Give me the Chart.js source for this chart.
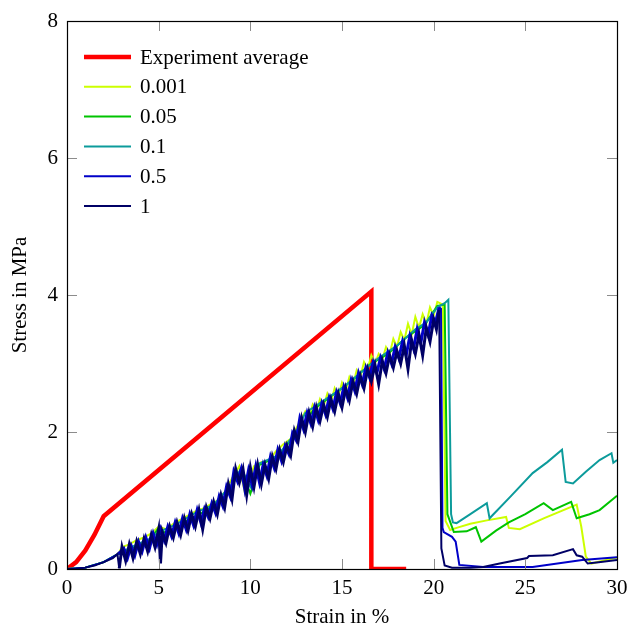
<!DOCTYPE html>
<html>
<head>
<meta charset="utf-8">
<script src="https://cdn.jsdelivr.net/npm/chart.js@4.4.0/dist/chart.umd.min.js"></script>
<style>
  html, body { margin: 0; padding: 0; background: #fff; }
  #wrap { width: 630px; height: 630px; }
</style>
</head>
<body>
<div id="wrap"><canvas id="grafico"></canvas></div>
<script>
// valores (strain %, stress MPa)
var experimento = [[0,0],[0.5,0.1],[1,0.27],[1.5,0.5],[2,0.77],[16.6,4.05],[16.6,0],[18.5,0]];

var serie0001 = [[0,0],[1,0.02],[2,0.1],[2.8,0.22],[3.0,0.32],[3.4,0.36],[3.8,0.42],[4.2,0.46],[4.6,0.52],[5.0,0.62],
  [5.4,0.58],[5.8,0.66],[6.2,0.72],[6.6,0.78],[7.0,0.84],[7.4,0.88],[7.8,0.94],[8.2,1.00],[8.6,1.12],[9.0,1.32],
  [9.4,1.50],[9.7,1.12],[10.2,1.50],[10.6,1.56],[11.0,1.58],[11.4,1.72],[11.8,1.82],[12.2,1.90],[12.6,2.10],
  [13.0,2.30],[13.2,2.22],[13.4,2.40],[13.6,2.30],[13.8,2.48],[14.0,2.38],[14.2,2.56],[14.4,2.44],[14.6,2.64],
  [14.8,2.52],[15.0,2.72],[15.2,2.60],[15.4,2.80],[15.6,2.68],[15.8,2.90],[16.0,2.80],[16.2,3.02],[16.4,2.92],
  [16.6,3.12],[16.8,3.00],[17.0,3.14],[17.2,3.06],[17.4,3.24],[17.6,3.14],[17.8,3.36],[18.0,3.24],[18.2,3.46],
  [18.4,3.34],[18.6,3.58],[18.8,3.42],[19.0,3.68],[19.2,3.52],[19.4,3.72],[19.6,3.58],[19.8,3.82],[20.0,3.70],
  [20.2,3.90],[20.5,3.86],[20.65,0.7],[20.9,0.57],[21.25,0.6],[22.0,0.66],[22.9,0.71],[23.95,0.76],[24.1,0.6],
  [24.7,0.58],[26.0,0.74],[27.8,0.94],[28.05,0.62],[28.3,0.18],[28.6,0.08],[30,0.17]];

var serie005 = [[0,0],[1,0.02],[2,0.1],[2.8,0.22],[3.5,0.3],[4.5,0.42],[5.0,0.6],[5.5,0.5],[6.5,0.7],[7.5,0.84],
  [8.5,1.02],[9.0,1.22],[9.5,1.45],[10.0,1.1],[10.5,1.52],[11.5,1.64],[12.5,1.98],[13.5,2.34],[14.5,2.54],[15.5,2.74],
  [16.5,2.98],[17.5,3.14],[18.5,3.38],[19.5,3.56],[20.2,3.84],[20.6,3.86],[20.75,0.8],[21.1,0.54],[21.8,0.55],
  [22.3,0.61],[22.6,0.4],[23.4,0.56],[24.1,0.68],[25.0,0.8],[26.0,0.96],[26.5,0.86],[27.5,0.98],[27.8,0.74],
  [28.5,0.8],[29.05,0.86],[30,1.07]];

var serie01 = [[0,0],[1,0.02],[2,0.1],[2.8,0.22],[3.5,0.32],[4.5,0.44],[5.0,0.54],[6.0,0.66],[7.0,0.82],[8.0,0.94],
  [9.0,1.24],[9.5,1.47],[10.0,1.2],[10.5,1.54],[11.5,1.66],[12.5,2.0],[13.0,2.28],[14.0,2.46],[15.0,2.64],
  [16.0,2.86],[17.0,3.08],[18.0,3.26],[19.0,3.5],[19.6,3.6],[20.2,3.82],[20.6,3.88],[20.8,3.93],[20.95,0.8],
  [21.05,0.68],[21.25,0.67],[22.0,0.8],[22.9,0.96],[23.05,0.74],[24.2,1.06],[25.4,1.4],[26.2,1.56],[27.0,1.74],
  [27.2,1.27],[27.6,1.25],[28.3,1.42],[29.05,1.59],[29.7,1.69],[29.8,1.55],[30,1.59]];

var serie05 = [[0,0],[1,0.02],[2,0.1],[2.8,0.22],[3.1,0.30],[3.3,0.16],[3.5,0.34],[3.7,0.20],[3.9,0.40],[4.1,0.26],
  [4.3,0.46],[4.5,0.30],[4.7,0.52],[4.9,0.36],[5.1,0.58],[5.3,0.42],[5.5,0.62],[5.7,0.48],[5.9,0.68],[6.1,0.52],
  [6.3,0.74],[6.5,0.58],[6.7,0.80],[6.9,0.64],[7.1,0.86],[7.3,0.68],[7.5,0.88],[7.7,0.76],[7.9,0.96],[8.1,0.82],
  [8.3,1.06],[8.5,0.92],[8.7,1.20],[8.9,1.06],[9.1,1.42],[9.3,1.28],[9.5,1.46],[9.7,1.16],[9.9,1.44],[10.1,1.22],
  [10.3,1.50],[10.5,1.26],[10.7,1.52],[10.9,1.36],[11.1,1.64],[11.3,1.48],[11.5,1.74],[11.7,1.58],[11.9,1.80],
  [12.1,1.68],[12.3,1.98],[12.5,1.88],[12.7,2.20],[12.9,2.04],[13.1,2.28],[13.3,2.12],[13.5,2.36],[13.7,2.18],
  [13.9,2.42],[14.1,2.26],[14.3,2.50],[14.5,2.34],[14.7,2.58],[14.9,2.42],[15.1,2.66],[15.3,2.50],[15.5,2.76],
  [15.7,2.60],[15.9,2.86],[16.1,2.70],[16.3,2.94],[16.5,2.80],[16.7,3.02],[16.9,2.86],[17.1,3.08],[17.3,2.92],
  [17.5,3.16],[17.7,3.00],[17.9,3.24],[18.1,3.08],[18.3,3.32],[18.5,3.12],[18.7,3.40],[18.9,3.22],[19.1,3.50],
  [19.3,3.30],[19.5,3.60],[19.7,3.42],[19.9,3.70],[20.1,3.60],[20.3,3.82],[20.4,3.80],[20.48,0.6],[20.55,0.54],
  [21.0,0.47],[21.2,0.40],[21.4,0.06],[22.7,0.03],[25.4,0.03],[28.1,0.13],[30,0.17]];

var serie1 = [[0,0],[0.5,0.005],[1,0.02],[1.5,0.05],[2,0.1],[2.5,0.16],[2.75,0.22],[2.85,0.01],[3.0,0.32],
  [3.2,0.12],[3.4,0.36],[3.6,0.16],[3.8,0.40],[4.0,0.22],[4.2,0.44],[4.4,0.26],[4.6,0.50],[4.8,0.32],[5.0,0.58],
  [5.1,0.08],[5.2,0.54],[5.4,0.38],[5.6,0.62],[5.8,0.46],[6.0,0.68],[6.2,0.50],[6.4,0.74],[6.6,0.56],[6.8,0.80],
  [7.0,0.62],[7.2,0.86],[7.4,0.58],[7.6,0.90],[7.8,0.74],[8.0,0.98],[8.2,0.80],[8.4,1.08],[8.6,0.90],[8.8,1.24],
  [9.0,1.02],[9.2,1.46],[9.4,1.26],[9.6,1.46],[9.8,1.08],[10.0,1.48],[10.2,1.20],[10.4,1.52],[10.6,1.24],
  [10.8,1.52],[11.0,1.32],[11.2,1.64],[11.4,1.46],[11.6,1.74],[11.8,1.56],[12.0,1.80],[12.2,1.66],[12.4,2.02],
  [12.6,1.86],[12.8,2.20],[13.0,2.00],[13.2,2.28],[13.4,2.08],[13.6,2.36],[13.8,2.16],[14.0,2.40],[14.2,2.22],
  [14.4,2.48],[14.6,2.30],[14.8,2.56],[15.0,2.36],[15.2,2.64],[15.4,2.46],[15.6,2.74],[15.8,2.56],[16.0,2.82],
  [16.2,2.64],[16.4,2.92],[16.6,2.74],[16.8,2.98],[17.0,2.70],[17.2,3.04],[17.4,2.86],[17.6,3.12],[17.8,2.94],
  [18.0,3.18],[18.2,3.00],[18.4,3.26],[18.6,2.92],[18.8,3.34],[19.0,3.14],[19.2,3.42],[19.4,3.12],[19.6,3.52],
  [19.8,3.32],[20.0,3.64],[20.15,3.50],[20.3,3.78],[20.42,0.3],[20.6,0.05],[21.0,0.02],[22.0,0.02],[22.7,0.03],
  [23.6,0.08],[25.1,0.16],[25.2,0.19],[26.5,0.2],[27.6,0.29],[27.8,0.2],[28.1,0.18],[28.4,0.08],[29.0,0.1],[30,0.13]];

var nomes = ['Experiment average', '0.001', '0.05', '0.1', '0.5', '1'];
var cores = ['#ff0000', '#ccff00', '#00c400', '#0c9b9b', '#0000c8', '#000066'];
var larguras = [4.5, 2, 2, 2, 2, 2];
var series = [experimento, serie0001, serie005, serie01, serie05, serie1];

var fonte = '"Liberation Serif", "DejaVu Serif", serif';

// trecho ruidoso (antes da ruptura) fica mais grosso para parecer a faixa densa do original
function larguraTrecho(base) {
    return function (c) {
        if (c.p0.parsed.x >= 2.8 && c.p1.parsed.x <= 20.35) return 3;
        return base;
    };
}

var datasets = [];
for (var i = 0; i < series.length; i++) {
    var ds = {
        label: nomes[i],
        data: series[i].map(function (p) { return { x: p[0], y: p[1] }; }),
        borderColor: cores[i],
        backgroundColor: cores[i],
        borderWidth: larguras[i],
        showLine: true,
        pointRadius: 0,
        tension: 0,
        borderJoinStyle: 'miter',
        order: series.length - i
    };
    if (i >= 4) {
        ds.segment = { borderWidth: larguraTrecho(larguras[i]) };
    }
    datasets.push(ds);
}

// moldura + ticks para dentro (estilo pgfplots)
var moldura = {
    id: 'moldura',
    afterDatasetsDraw: function (chart) {
        var ctx = chart.ctx;
        var a = chart.chartArea;
        var sx = chart.scales.x, sy = chart.scales.y;
        var tl = 10;
        ctx.save();
        ctx.strokeStyle = '#8c8c8c';
        ctx.lineWidth = 1;
        ctx.beginPath();
        sx.ticks.forEach(function (t) {
            var px = Math.round(sx.getPixelForValue(t.value)) + 0.5;
            ctx.moveTo(px, a.bottom); ctx.lineTo(px, a.bottom - tl);
            ctx.moveTo(px, a.top); ctx.lineTo(px, a.top + tl);
        });
        sy.ticks.forEach(function (t) {
            var py = Math.round(sy.getPixelForValue(t.value)) + 0.5;
            ctx.moveTo(a.left, py); ctx.lineTo(a.left + tl, py);
            ctx.moveTo(a.right, py); ctx.lineTo(a.right - tl, py);
        });
        ctx.stroke();
        ctx.strokeStyle = '#000';
        ctx.lineWidth = 1.2;
        ctx.strokeRect(Math.round(a.left) + 0.5, Math.round(a.top) + 0.5,
            Math.round(a.right - a.left), Math.round(a.bottom - a.top));

        // legenda
        ctx.font = '21px ' + fonte;
        ctx.textBaseline = 'middle';
        ctx.textAlign = 'left';
        for (var i = 0; i < chart.data.datasets.length; i++) {
            var d = chart.data.datasets[i];
            var yy = 57 + i * 29.8;
            ctx.strokeStyle = d.borderColor;
            ctx.lineWidth = d.borderWidth;
            ctx.beginPath();
            ctx.moveTo(84, yy); ctx.lineTo(131, yy);
            ctx.stroke();
            ctx.fillStyle = '#000';
            ctx.fillText(d.label, 140, yy + 1);
        }
        ctx.restore();
    }
};

var config = {
    type: 'scatter',
    data: { datasets: datasets },
    options: {
        responsive: true,
        maintainAspectRatio: false,
        animation: false,
        layout: { padding: { left: 0, right: 13, top: 21, bottom: 0 } },
        plugins: { legend: { display: false }, tooltip: { enabled: false } },
        scales: {
            x: {
                type: 'linear', min: 0, max: 30,
                grid: { display: false, drawTicks: false },
                border: { display: false },
                ticks: { stepSize: 5, color: '#000', padding: 7, font: { family: fonte, size: 21 } },
                title: { display: true, text: 'Strain in %', color: '#000', padding: { top: 2, bottom: 0 }, font: { family: fonte, size: 21 } },
                afterFit: function (s) { s.height = 61; s.paddingRight = 0; s.paddingLeft = 0; }
            },
            y: {
                type: 'linear', min: 0, max: 8,
                grid: { display: false, drawTicks: false },
                border: { display: false },
                ticks: { stepSize: 2, color: '#000', padding: 9, font: { family: fonte, size: 21 } },
                title: { display: true, text: 'Stress in MPa', color: '#000', padding: { top: 8, bottom: 0 }, font: { family: fonte, size: 21 } },
                afterFit: function (s) { s.width = 67; s.paddingTop = 0; s.paddingBottom = 0; }
            }
        }
    },
    plugins: [moldura]
};

window.grafico = new Chart(document.getElementById('grafico').getContext('2d'), config);
</script>
</body>
</html>
